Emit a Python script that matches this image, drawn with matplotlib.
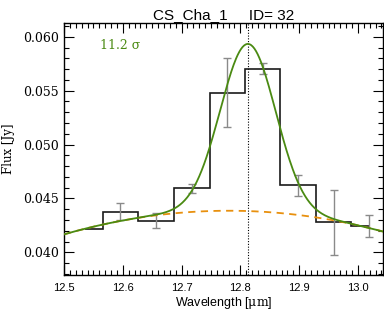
import numpy as np
import matplotlib.pyplot as plt
from matplotlib.ticker import MultipleLocator

# spectrum bins (centres), flux and errors
wave = np.array([12.536, 12.596, 12.657, 12.717, 12.778, 12.838, 12.898, 12.959, 13.019])
flux = np.array([0.0422, 0.04376, 0.04293, 0.04593, 0.05481, 0.05704, 0.04623, 0.04278, 0.04244])
err = np.array([np.nan, 0.0008, 0.0007, 0.0004, 0.0032, 0.0005, 0.00097, 0.0030, 0.00099])

# fit: quadratic continuum + gaussian line
cont_a, cont_b, cont_c = 0.04385, -0.00112, -0.02796
line_center = 12.813
line_amp = 0.01550
line_sigma = 0.047
snr_label = "11.2 σ"
title = "CS_Cha_1     ID= 32"

green = '#4a8a12'
orange = '#e8900e'

plt.rcParams['mathtext.fontset'] = 'dejavuserif'

fig = plt.figure(figsize=(3.84, 3.18), dpi=100)
ax = fig.add_axes([0.1667, 0.1352, 0.8313, 0.7934])

lam = np.linspace(12.5, 13.043, 400)
cont = cont_a + cont_b * (lam - 12.8) + cont_c * (lam - 12.8) ** 2
model = cont + line_amp * np.exp(-(lam - line_center) ** 2 / (2 * line_sigma ** 2))

# IDL psym=10 style histogram
edges = np.concatenate([[wave[0]], (wave[:-1] + wave[1:]) / 2, [wave[-1]]])
ax.stairs(flux, edges, baseline=None, color='#1a1a1a', lw=1.2, zorder=2)
ax.errorbar(wave, flux, yerr=err, fmt='none', ecolor='#8a8a8a', elinewidth=1.0,
            capsize=3, capthick=1.0, zorder=3)

ax.plot(lam, cont, color=orange, lw=1.3, ls=(0, (4, 3)), zorder=4)
ax.plot(lam, model, color=green, lw=1.3, zorder=5)
ax.axvline(line_center, color='black', lw=0.8, ls=(0, (1, 1.5)), zorder=1)

ax.xaxis.set_major_locator(MultipleLocator(0.1))
ax.xaxis.set_minor_locator(MultipleLocator(0.01))
ax.yaxis.set_major_locator(MultipleLocator(0.005))
ax.yaxis.set_minor_locator(MultipleLocator(0.001))
ax.tick_params(which='both', direction='in', top=True, right=True, width=0.8)
ax.tick_params(which='major', length=7)
ax.tick_params(which='minor', length=3.5)
ax.tick_params(axis='x', which='major', pad=6)

ax.set_xlim(12.5, 13.043)
ax.set_ylim(0.0379, 0.0613)
ax.set_xticks(ax.get_xticks())
ax.set_yticks(ax.get_yticks())
ax.set_xticklabels([f"{v:.1f}" for v in ax.get_xticks()], family='Liberation Sans', fontsize=8)
ax.set_yticklabels([f"{v:.3f}" for v in ax.get_yticks()], family='DejaVu Serif', fontsize=9)
ax.set_xlim(12.5, 13.043)
ax.set_ylim(0.0379, 0.0613)

for s in ax.spines.values():
    s.set_linewidth(1.0)

ax.set_xlabel("Wavelength [$\\mathrm{\\mu m}$]", family='Liberation Sans', fontsize=9, labelpad=1)
ax.set_ylabel("Flux [Jy]", family='DejaVu Serif', fontsize=8.5, labelpad=6)
ax.set_title(title, family='Liberation Sans', fontsize=11, pad=3)

ax.text(0.113, 0.91, snr_label, transform=ax.transAxes, color=green,
        family='DejaVu Serif', fontsize=9, va='center')

fig.savefig('out.png', dpi=100)
